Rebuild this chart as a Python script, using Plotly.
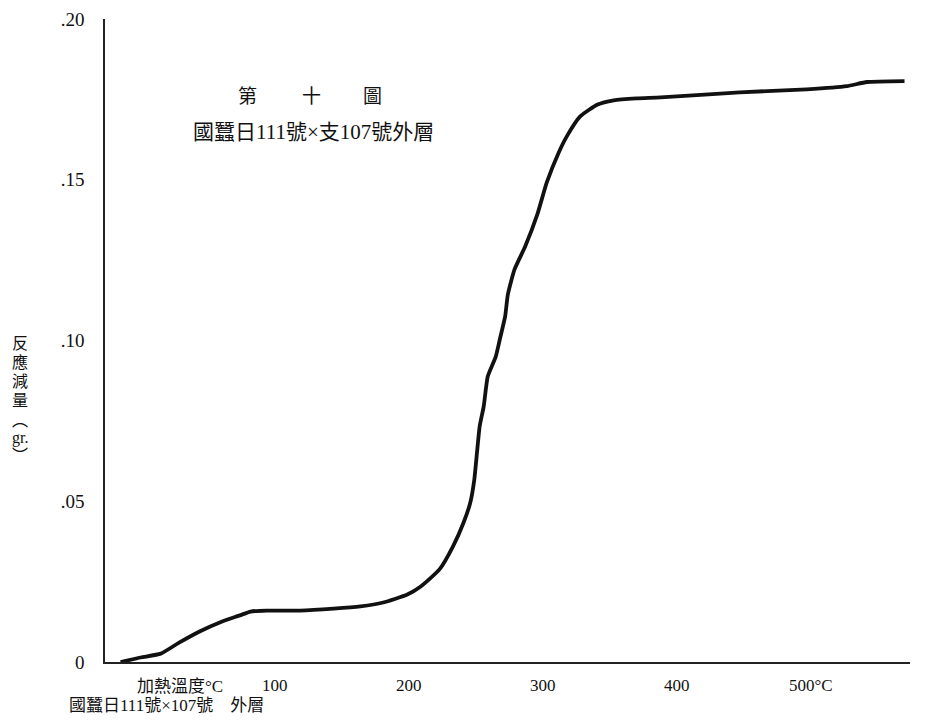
import plotly.graph_objects as go

# Heating temperature (°C) and reaction weight loss (gr.)
temps = [-15, 0, 15, 29, 44, 59, 74, 82, 94, 119, 144, 164, 181, 199, 209, 223,
         233, 241, 246, 249, 251, 253, 256, 259, 265, 268, 272, 274, 279, 287,
         296, 303, 312, 318, 328, 341, 353, 370, 388, 447, 497, 527, 542, 570]
loss = [0.0000, 0.0014, 0.0026, 0.0061, 0.0095, 0.0123, 0.0145, 0.0157, 0.0160,
        0.0160, 0.0166, 0.0173, 0.0185, 0.0210, 0.0235, 0.0288, 0.0359, 0.0434,
        0.0496, 0.0568, 0.0652, 0.0733, 0.0795, 0.0888, 0.0950, 0.1003, 0.1075,
        0.1143, 0.1221, 0.1293, 0.1392, 0.1491, 0.1585, 0.1635, 0.1697, 0.1734,
        0.1747, 0.1753, 0.1756, 0.1772, 0.1781, 0.1791, 0.1804, 0.1807]

x_tickvals = [100, 200, 300, 400, 500]
x_ticktext = ["100", "200", "300", "400", "500°C"]
y_tickvals = [0, 0.05, 0.10, 0.15, 0.20]
y_ticktext = ["0", ".05", ".10", ".15", ".20"]

title_chars = ["第", "十", "圖"]
subtitle = "國蠶日111號×支107號外層"
x_caption = "加熱溫度°C"
bottom_caption = "國蠶日111號×107號　外層"
y_label_parts = ["反", "應", "減", "量", "︵", "gr.", "︶"]

FONT = "Liberation Serif, Noto Sans CJK TC, serif"

# page body has an 8px margin; figure sized to fit the window
OFF = 8
W, H = 918, 710
L, R, T, B = 97, 16, 11, 56
pw, ph = W - L - R, H - T - B


def px(x):
    return (x - OFF - L) / pw


def py(y):
    return (H - B - (y - OFF)) / ph


def note(text, x, y, size):
    return dict(x=px(x), y=py(y), xref="paper", yref="paper", text=text,
                showarrow=False, xanchor="center", yanchor="middle",
                font=dict(family=FONT, size=size, color="#111"))


fig = go.Figure()
fig.add_trace(go.Scatter(
    x=temps, y=loss, mode="lines",
    line=dict(color="#111111", width=3.8, shape="spline", smoothing=0.5),
    hoverinfo="skip", showlegend=False,
))

annotations = []
for ch, xp in zip(title_chars, [247, 311, 372]):
    annotations.append(note(ch, xp, 97, 19))
annotations.append(note(subtitle, 313, 132, 21))
annotations.append(note(x_caption, 180, 686, 17))
annotations.append(note(bottom_caption, 166, 705, 17))
for part, yp in zip(y_label_parts, [343, 362, 381, 400, 420, 438, 455]):
    annotations.append(note(part, 20, yp, 16))

fig.update_layout(
    width=W, height=H,
    margin=dict(l=L, r=R, t=T, b=B, autoexpand=False),
    paper_bgcolor="white", plot_bgcolor="white",
    annotations=annotations,
    showlegend=False,
)
fig.update_xaxes(
    range=[-26.6, 574.1], showgrid=False, zeroline=False, automargin=False,
    showline=True, linecolor="#222", linewidth=1.5,
    tickvals=x_tickvals, ticktext=x_ticktext, ticks="",
    ticklabelstandoff=7,
    tickfont=dict(family=FONT, size=17, color="#111"),
)
fig.update_yaxes(
    range=[0, 0.2], showgrid=False, zeroline=False, automargin=False,
    showline=True, linecolor="#222", linewidth=1.5,
    tickvals=y_tickvals, ticktext=y_ticktext, ticks="",
    ticklabelstandoff=15,
    tickfont=dict(family=FONT, size=19, color="#111"),
)

fig.write_html("out.html")
